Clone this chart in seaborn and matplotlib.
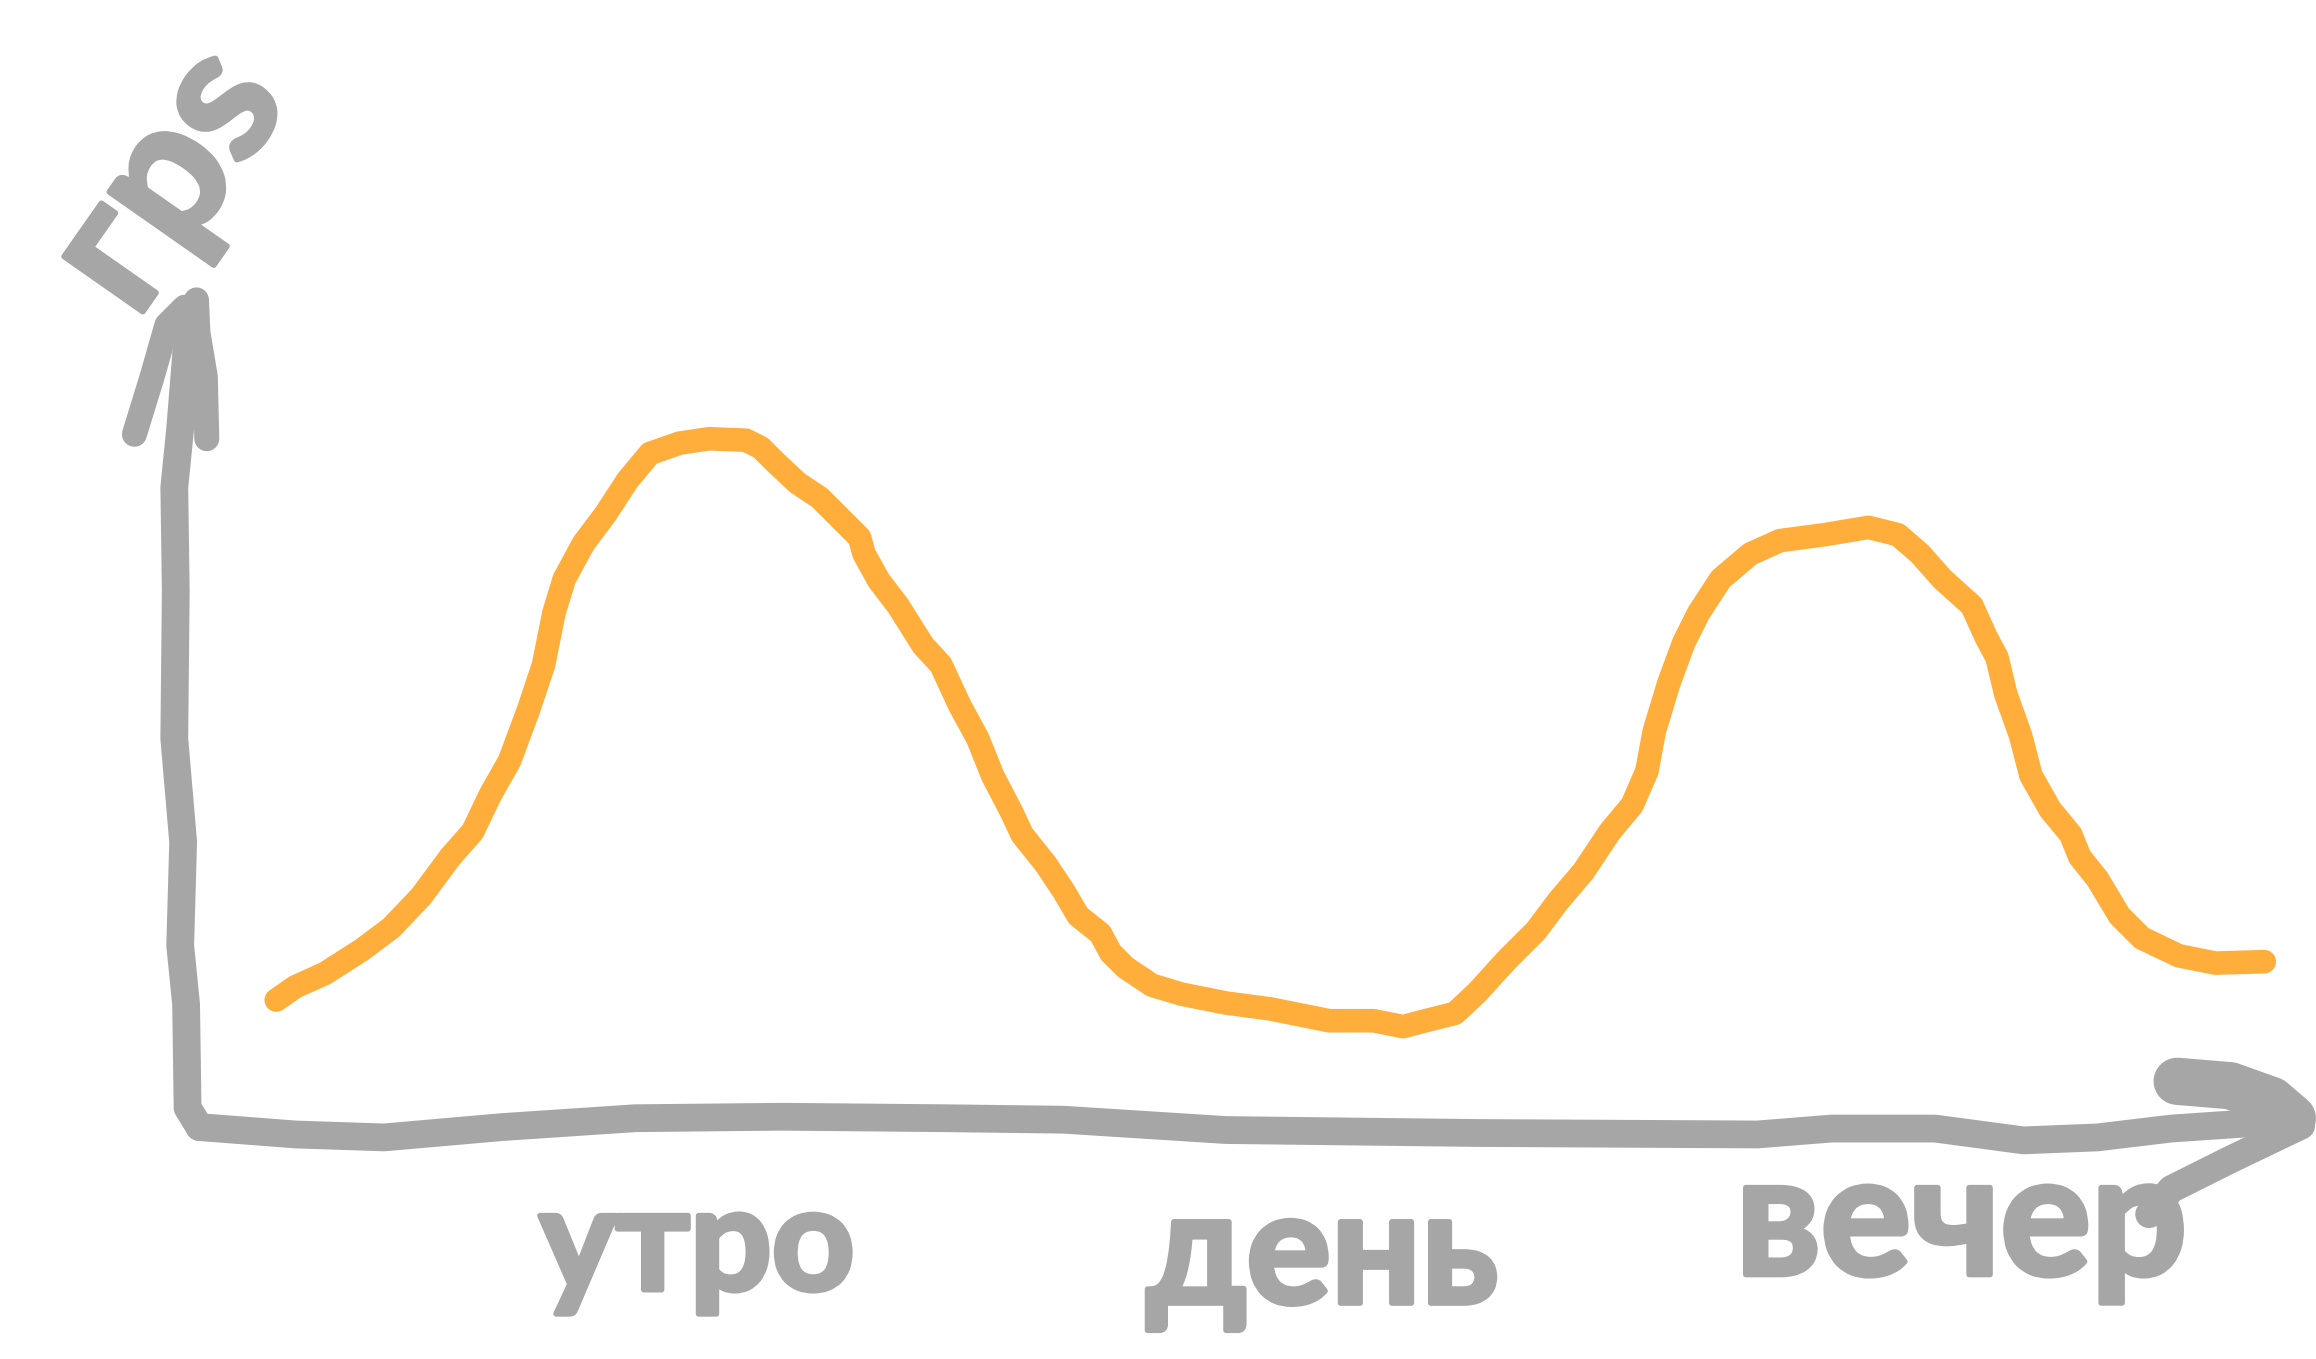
import matplotlib
matplotlib.use("Agg")
import matplotlib.pyplot as plt
import matplotlib.patheffects as pe
import seaborn as sns

sns.set_theme(style="white")
plt.rcParams['font.family'] = ['Lato', 'DejaVu Sans']

GREY = "#A6A6A6"
ORANGE = "#FFAE3B"

curve_x = [187,200,220,245,265,285,305,320,332,345,358,368,375,382,395,410,425,440,460,480,505,515,525,540,555,570,582,585,595,608,625,637,650,662,672,685,692,708,720,730,745,752,762,780,800,830,860,885,900,930,950,965,985,1000,1020,1040,1055,1072,1090,1105,1115,1120,1130,1140,1150,1165,1185,1205,1235,1265,1285,1300,1315,1335,1345,1352,1358,1368,1375,1388,1402,1408,1420,1435,1450,1475,1500,1533]
curve_y = [677,668,659,643,628,607,580,563,538,515,480,450,415,392,368,348,325,307,300,297,298,303,313,327,337,352,364,375,393,410,437,450,478,500,525,550,565,585,603,620,632,645,655,667,673,679,683,688,691,691,695,691,686,672,650,630,610,590,563,545,522,495,462,435,415,392,375,366,362,357,362,375,392,410,432,445,470,498,525,548,565,580,595,620,635,647,652,651]

yaxis_x = [128,126,122,118,119,118,124,122,126,127,135]
yaxis_y = [215,240,290,330,400,500,570,640,680,750,763]
xaxis_x = [135,200,260,340,430,530,640,720,830,1000,1190,1240,1310,1370,1420,1470,1558]
xaxis_y = [763,768,770,763,757,756,757,758,765,767,768,764,764,772,770,764,758]

yhead_left_x = [91,103,113,125]
yhead_left_y = [294,255,220,208]
yhead_right_x = [140,139,134,133]
yhead_right_y = [297,255,225,203]
xhead_up_x = [1474,1510,1538,1552]
xhead_up_y = [732,735,745,757]
xhead_down_x = [1558,1510,1470,1455]
xhead_down_y = [762,785,805,822]

labels = ["утро", "день", "вечер"]
label_x = [472, 895, 1328]
label_y = [845, 852, 830]
label_size = [104, 114, 122]
y_title = "грs"

fig, ax = plt.subplots(figsize=(23.16, 13.59), dpi=100)
fig.subplots_adjust(0, 0, 1, 1)
strokes = [
    (yaxis_x, yaxis_y, 20),
    (xaxis_x, xaxis_y, 20),
    (yhead_left_x, yhead_left_y, 18),
    (yhead_right_x, yhead_right_y, 18),
    (xhead_up_x, xhead_up_y, 34),
    (xhead_down_x, xhead_down_y, 20),
]
for sx, sy, w in strokes:
    sns.lineplot(x=sx, y=sy, sort=False, estimator=None, color=GREY, linewidth=w,
                 solid_capstyle="round", solid_joinstyle="round", ax=ax)
sns.lineplot(x=curve_x, y=curve_y, sort=False, estimator=None, color=ORANGE, linewidth=17,
             solid_capstyle="round", solid_joinstyle="round", ax=ax)

thick = [pe.withStroke(linewidth=4, foreground=GREY)]
for t, x, y, s in zip(labels, label_x, label_y, label_size):
    ax.text(x, y, t, color=GREY, fontsize=s, fontweight="bold", ha="center", va="center", path_effects=thick)
ax.text(114, 122, y_title, color=GREY, fontsize=135, fontweight="bold", ha="center", va="center",
        rotation=55, path_effects=thick)

ax.set_xlim(0, 1568)
ax.set_ylim(920, 0)
ax.set_axis_off()
fig.savefig("out.png", dpi=100, facecolor="white")
